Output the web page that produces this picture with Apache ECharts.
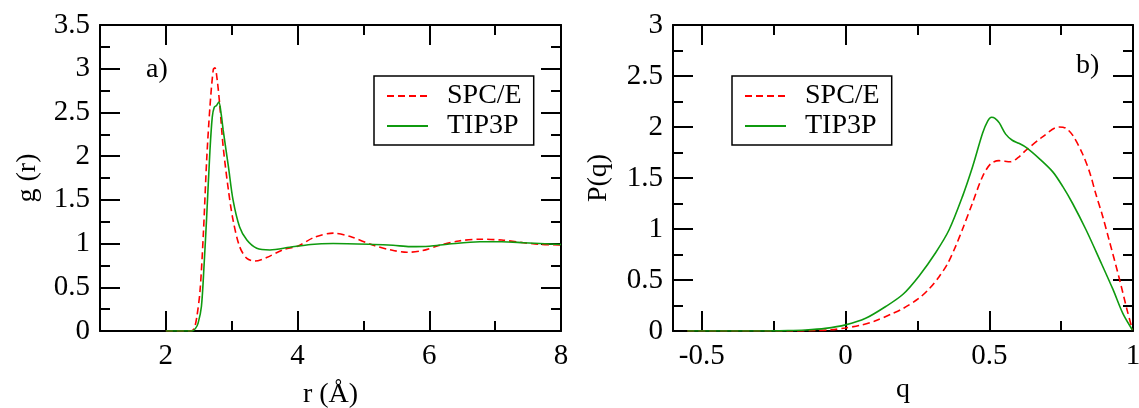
<!DOCTYPE html>
<html><head><meta charset="utf-8">
<script src="https://cdn.jsdelivr.net/npm/echarts@6/dist/echarts.min.js"></script>
<style>html,body{margin:0;padding:0;background:#fff}#c{width:1139px;height:408px}</style>
</head><body><div id="c"></div>
<script>
// ---- data: panel a) radial distribution g(r) ----
const rSPCE = [2.0, 2.38, 2.43, 2.47, 2.52, 2.57, 2.62, 2.67, 2.72, 2.745, 2.78, 2.82, 2.87, 2.95, 3.02, 3.12, 3.23, 3.35, 3.53, 3.78, 4.0, 4.25, 4.54, 4.8, 5.15, 5.4, 5.66, 5.9, 6.16, 6.45, 6.77, 7.1, 7.43, 7.7, 8.0];
const gSPCE = [0, 0, 0.03, 0.16, 0.47, 1.12, 1.96, 2.57, 2.99, 3.01, 2.87, 2.57, 2.11, 1.61, 1.27, 0.965, 0.83, 0.80, 0.84, 0.93, 0.97, 1.07, 1.12, 1.08, 0.98, 0.93, 0.90, 0.92, 0.98, 1.03, 1.05, 1.04, 1.01, 0.99, 0.985];
const rTIP3P = [2.0, 2.40, 2.45, 2.49, 2.54, 2.58, 2.62, 2.67, 2.705, 2.735, 2.77, 2.805, 2.84, 2.87, 2.95, 3.02, 3.12, 3.23, 3.38, 3.58, 3.88, 4.2, 4.54, 5.15, 5.45, 5.71, 6.0, 6.3, 6.77, 7.1, 7.43, 8.0];
const gTIP3P = [0, 0, 0.03, 0.09, 0.28, 0.75, 1.31, 2.07, 2.45, 2.56, 2.58, 2.62, 2.48, 2.30, 1.88, 1.50, 1.19, 1.04, 0.946, 0.927, 0.957, 0.99, 1.0, 0.99, 0.98, 0.965, 0.97, 0.995, 1.02, 1.02, 1.01, 0.99];
// ---- data: panel b) P(q) ----
const qSPCE = [-0.55, -0.2, -0.1, -0.05, 0, 0.05, 0.1, 0.162, 0.2, 0.255, 0.29, 0.325, 0.355, 0.383, 0.41, 0.441, 0.476, 0.505, 0.534, 0.574, 0.6, 0.627, 0.684, 0.742, 0.765, 0.79, 0.824, 0.85, 0.87, 0.895, 0.917, 0.951, 0.98, 0.998];
const pSPCE = [0, 0, 0.005, 0.012, 0.03, 0.055, 0.095, 0.17, 0.22, 0.32, 0.41, 0.53, 0.66, 0.83, 1.02, 1.25, 1.51, 1.64, 1.67, 1.66, 1.70, 1.77, 1.90, 2.0, 1.99, 1.92, 1.74, 1.55, 1.35, 1.12, 0.89, 0.53, 0.2, 0.01];
const qTIP3P = [-0.55, -0.3, -0.2, -0.14, -0.07, 0, 0.07, 0.14, 0.2, 0.256, 0.314, 0.36, 0.407, 0.442, 0.477, 0.495, 0.508, 0.52, 0.535, 0.557, 0.58, 0.603, 0.628, 0.674, 0.721, 0.756, 0.79, 0.837, 0.884, 0.93, 0.965, 0.998];
const pTIP3P = [0, 0, 0.004, 0.01, 0.026, 0.06, 0.124, 0.24, 0.36, 0.54, 0.77, 0.99, 1.32, 1.61, 1.94, 2.06, 2.095, 2.085, 2.04, 1.93, 1.87, 1.84, 1.80, 1.69, 1.56, 1.415, 1.25, 0.99, 0.70, 0.41, 0.17, 0.01];
// ---- tick positions ----
const rMajor = [2, 4, 6, 8];
const rMinor = [3, 5, 7];
const qMajor = [-0.5, 0, 0.5, 1];
const qMinor = [-0.25, 0.25, 0.75];
const names = ['SPC/E', 'TIP3P'];

const FONT = 'Liberation Serif';
const RED = '#ff0000', GREEN = '#0f9a0f';

function zip(a, b) { return a.map((v, i) => [v, b[i]]); }

function xAx(grid, pos, min, max, ticks, len, labels, line, name, gap) {
  return {
    type: 'value', gridIndex: grid, position: pos, min: min, max: max,
    name: name || '', nameLocation: 'middle', nameGap: gap || 0,
    nameTextStyle: { fontFamily: FONT, fontSize: 28, color: '#000' },
    axisLine: { show: line, onZero: false, lineStyle: { color: '#000', width: 2 } },
    axisTick: { show: true, inside: true, length: len, customValues: ticks, lineStyle: { color: '#000', width: 2 } },
    axisLabel: { show: labels, customValues: ticks, margin: 11, fontFamily: FONT, fontSize: 29, color: '#000' },
    splitLine: { show: false }
  };
}
function yAx(grid, pos, max, labels, name, gap) {
  return {
    type: 'value', gridIndex: grid, position: pos, min: 0, max: max, interval: 0.5,
    name: name || '', nameLocation: 'middle', nameGap: gap || 0, nameRotate: 90,
    nameTextStyle: { fontFamily: FONT, fontSize: 28, color: '#000' },
    axisLine: { show: true, onZero: false, lineStyle: { color: '#000', width: 2 } },
    axisTick: { show: true, inside: true, length: 20, lineStyle: { color: '#000', width: 2 } },
    minorTick: { show: true, splitNumber: 2, length: 10, lineStyle: { color: '#000', width: 2 } },
    axisLabel: { show: labels, margin: 10, fontFamily: FONT, fontSize: 29, color: '#000' },
    splitLine: { show: false }, minorSplitLine: { show: false }
  };
}

function legend(left) {
  return {
    orient: 'vertical', left: left, top: 76, data: names,
    padding: [6, 12, 5, 12], itemGap: 2, itemWidth: 41, itemHeight: 14,
    borderColor: '#000', borderWidth: 1.5, borderRadius: 0,
    itemStyle: { opacity: 0 },
    formatter: n => '\u2002' + n,
    textStyle: { fontFamily: FONT, fontSize: 28, color: '#000' },
    selectedMode: false
  };
}

function line(name, data, xi, yi, color, dashed) {
  return {
    type: 'line', name: name, data: data, xAxisIndex: xi, yAxisIndex: yi,
    symbol: 'none', smooth: 0.3, animation: false,
    lineStyle: { color: color, width: 1.6, type: dashed ? [7, 4] : 'solid' },
    itemStyle: { color: color }
  };
}

const chart = echarts.init(document.getElementById('c'), null, { renderer: 'canvas' });
chart.setOption({
  animation: false,
  backgroundColor: '#fff',
  title: [
    { text: 'a)', left: 146, top: 56, padding: 0, textStyle: { fontFamily: FONT, fontSize: 28, fontWeight: 'normal', color: '#000' } },
    { text: 'b)', left: 1076, top: 52, padding: 0, textStyle: { fontFamily: FONT, fontSize: 28, fontWeight: 'normal', color: '#000' } }
  ],
  legend: [legend(374), legend(732)],
  grid: [
    { left: 100, top: 25, width: 461, height: 306, outerBoundsMode: 'none', containLabel: false },
    { left: 673, top: 25, width: 460, height: 306, outerBoundsMode: 'none', containLabel: false }
  ],
  xAxis: [
    xAx(0, 'bottom', 1, 8, rMajor, 20, true, true, 'r (Å)', 50),
    xAx(0, 'bottom', 1, 8, rMinor, 10, false, false),
    xAx(0, 'top', 1, 8, rMajor, 20, false, true),
    xAx(0, 'top', 1, 8, rMinor, 10, false, false),
    xAx(1, 'bottom', -0.6, 1, qMajor, 20, true, true, 'q', 38),
    xAx(1, 'bottom', -0.6, 1, qMinor, 10, false, false),
    xAx(1, 'top', -0.6, 1, qMajor, 20, false, true),
    xAx(1, 'top', -0.6, 1, qMinor, 10, false, false)
  ],
  yAxis: [
    yAx(0, 'left', 3.5, true, 'g (r)', 58),
    yAx(0, 'right', 3.5, false),
    yAx(1, 'left', 3, true, 'P(q)', 60),
    yAx(1, 'right', 3, false)
  ],
  series: [
    line('SPC/E', zip(rSPCE, gSPCE), 0, 0, RED, true),
    line('TIP3P', zip(rTIP3P, gTIP3P), 0, 0, GREEN, false),
    line('SPC/E', zip(qSPCE, pSPCE), 4, 2, RED, true),
    line('TIP3P', zip(qTIP3P, pTIP3P), 4, 2, GREEN, false)
  ]
});
</script></body></html>
